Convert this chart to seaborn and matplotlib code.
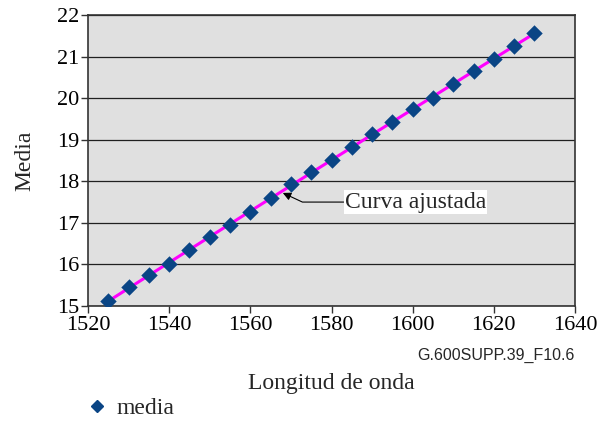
import numpy as np
import pandas as pd
import matplotlib
matplotlib.use('Agg')
import matplotlib.pyplot as plt
import seaborn as sns
from matplotlib.lines import Line2D

# datos
longitud = [1525, 1530, 1535, 1540, 1545, 1550, 1555, 1560, 1565, 1570, 1575,
            1580, 1585, 1590, 1595, 1600, 1605, 1610, 1615, 1620, 1625, 1630]
media = [15.13, 15.45, 15.75, 16.0, 16.35, 16.66, 16.94, 17.25, 17.6, 17.93, 18.22,
         18.52, 18.83, 19.13, 19.43, 19.75, 20.01, 20.34, 20.65, 20.93, 21.25, 21.57]
xticks = [1520, 1540, 1560, 1580, 1600, 1620, 1640]
yticks = [15, 16, 17, 18, 19, 20, 21, 22]

df = pd.DataFrame({'Longitud de onda': longitud, 'Media': media})

sns.set_style('ticks')
plt.rcParams['font.family'] = ['Liberation Serif', 'DejaVu Serif']

fig = plt.figure(figsize=(5.97, 4.21), dpi=100)
ax = fig.add_axes([88 / 597, 1 - 306 / 421, (575 - 88) / 597, (306 - 15) / 421])
ax.set_facecolor('#e0e0e0')

# curva ajustada (magenta)
sns.regplot(data=df, x='Longitud de onda', y='Media', order=2, ci=None, scatter=False,
            color='#ff00ff', line_kws={'linewidth': 2.2, 'zorder': 3}, ax=ax)
# puntos medidos
sns.scatterplot(data=df, x='Longitud de onda', y='Media', marker='D', s=70,
                color='#0a4585', edgecolor='#0a4585', linewidth=0, zorder=4, ax=ax)

ax.set_xlim(1520, 1640)
ax.set_ylim(15, 22)
ax.set_xticks(xticks)
ax.set_yticks(yticks)
ax.yaxis.grid(True, color='#202020', linewidth=0.9)
ax.set_axisbelow(True)
for s in ax.spines.values():
    s.set_color('#333333')
    s.set_linewidth(1.2)
ax.tick_params(axis='both', direction='out', length=5, width=1, color='#333333',
               labelsize=16, labelcolor='black', pad=1)
ax.tick_params(axis='x', pad=2)
ax.set_xlabel('')
ax.set_ylabel('Media', fontsize=17, labelpad=16)

ax.annotate('Curva ajustada', xy=(1568.0, 17.72), xytext=(1583.3, 17.5),
            fontsize=17, va='center', ha='left',
            bbox=dict(boxstyle='square,pad=0.05', fc='white', ec='none'),
            arrowprops=dict(arrowstyle='-|>', color='black', lw=0.8,
                            connectionstyle='angle,angleA=0,angleB=-25,rad=0',
                            shrinkA=0, shrinkB=0, mutation_scale=12))

fig.text(575 / 597, 1 - 355 / 421, 'G.600SUPP.39_F10.6', ha='right', va='center',
         fontsize=11.5, family=['Liberation Sans', 'DejaVu Sans'])
fig.text(331 / 597, 1 - 384 / 421, 'Longitud de onda', ha='center', va='center', fontsize=17)

handle = Line2D([], [], marker='D', linestyle='none', color='#0a4585', markersize=6)
fig.legend([handle], ['media'], loc='center left', bbox_to_anchor=(62 / 597, 1 - 408 / 421),
           frameon=False, fontsize=17, handletextpad=0.2, handlelength=1.2)

fig.savefig('out.png', dpi=100)
